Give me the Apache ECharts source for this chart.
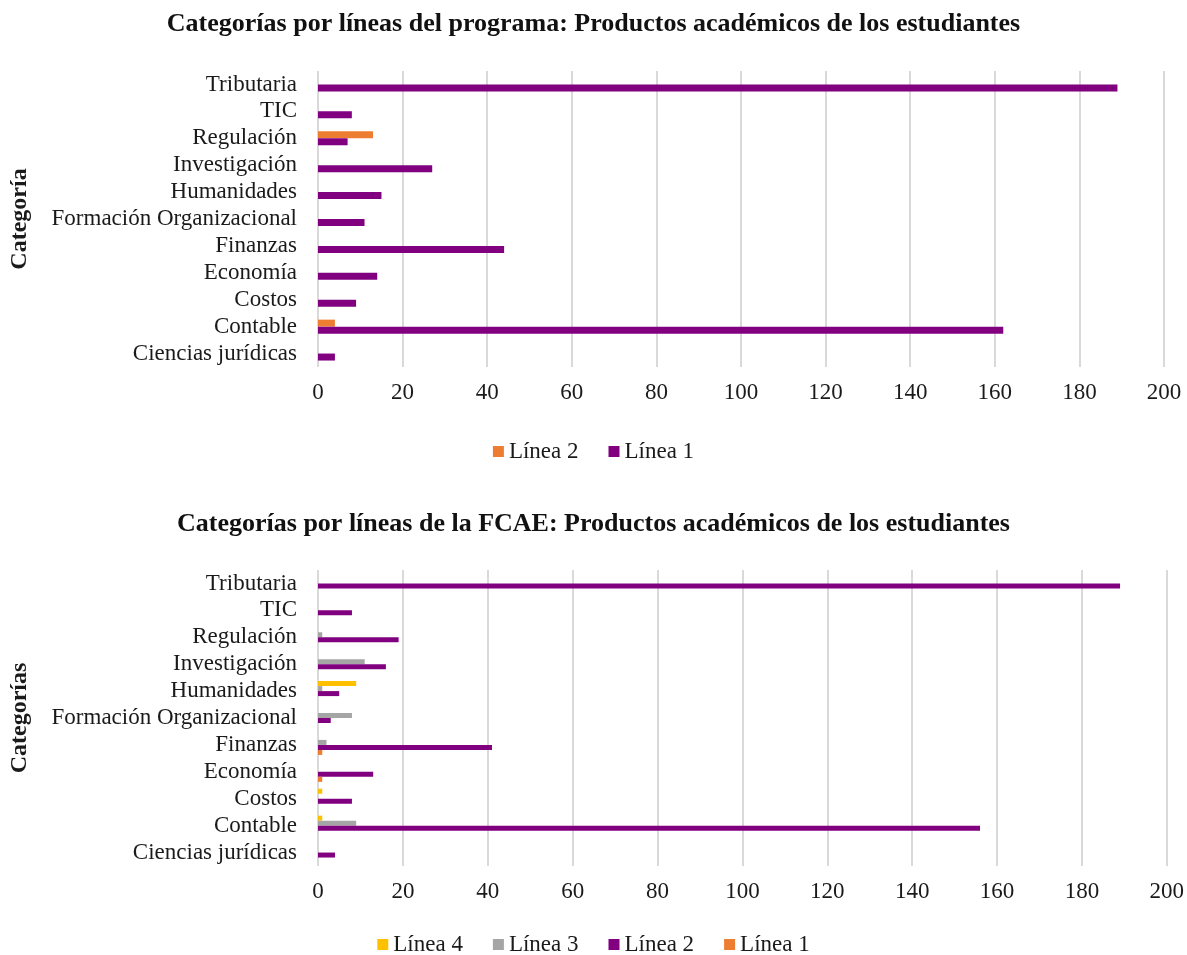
<!DOCTYPE html>
<html>
<head>
<meta charset="utf-8">
<script src="https://cdn.jsdelivr.net/npm/echarts@6/dist/echarts.min.js"></script>
<style>
  html, body { margin: 0; padding: 0; background: #fff; }
  #chart { width: 1187px; height: 955px; }
</style>
</head>
<body>
<div id="chart"></div>
<script>
// categories, bottom to top
const categories = [
  "Ciencias jurídicas", "Contable", "Costos", "Economía", "Finanzas",
  "Formación Organizacional", "Humanidades", "Investigación", "Regulación", "TIC", "Tributaria"
];

// chart 1: lineas del programa
const prog_linea2 = [0, 4, 0, 0, 0, 0, 0, 0, 13, 0, 0];
const prog_linea1 = [4, 162, 9, 14, 44, 11, 15, 27, 7, 8, 189];

// chart 2: lineas de la FCAE
const fcae_linea4 = [0, 1, 1, 0, 0, 0, 9, 0, 0, 0, 0];
const fcae_linea3 = [0, 9, 0, 0, 2, 8, 1, 11, 1, 0, 0];
const fcae_linea2 = [4, 156, 8, 13, 41, 3, 5, 16, 19, 8, 189];
const fcae_linea1 = [0, 0, 0, 1, 1, 0, 0, 0, 0, 0, 0];

const xTicks = [0, 20, 40, 60, 80, 100, 120, 140, 160, 180, 200];

const FONT = "Liberation Serif";
const PURPLE = "#800080", ORANGE = "#ED7D31", GRAY = "#A5A5A5", YELLOW = "#FFC000";

function valueAxis(gridIndex) {
  return {
    type: "value",
    gridIndex: gridIndex,
    min: xTicks[0],
    max: xTicks[xTicks.length - 1],
    interval: 20,
    axisLine: { show: false },
    axisTick: { show: false },
    axisLabel: { color: "#1a1a1a", fontFamily: FONT, fontSize: 23, margin: 14 },
    splitLine: { show: true, lineStyle: { color: "#d9d9d9", width: 2 } }
  };
}

function catAxis(gridIndex, name) {
  return {
    type: "category",
    gridIndex: gridIndex,
    data: categories,
    axisLine: { show: false },
    axisTick: { show: false },
    axisLabel: { interval: 0, color: "#1a1a1a", fontFamily: FONT, fontSize: 23, margin: 21 },
    name: name,
    nameLocation: "middle",
    nameRotate: 90,
    nameGap: 286,
    nameTextStyle: { color: "#1a1a1a", fontFamily: FONT, fontSize: 24, fontWeight: "bold" }
  };
}

function bar(name, data, color, idx, width) {
  return {
    name: name,
    type: "bar",
    xAxisIndex: idx,
    yAxisIndex: idx,
    data: data,
    barWidth: width,
    barGap: "0%",
    itemStyle: { color: color },
    silent: true
  };
}

const chart = echarts.init(document.getElementById("chart"));
chart.setOption({
  animation: false,
  backgroundColor: "#fff",
  title: [
    {
      text: "Categorías por líneas del programa: Productos académicos de los estudiantes",
      left: "center", top: 6,
      textStyle: { fontFamily: FONT, fontSize: 26, fontWeight: "bold", color: "#111" }
    },
    {
      text: "Categorías por líneas de la FCAE: Productos académicos de los estudiantes",
      left: "center", top: 506,
      textStyle: { fontFamily: FONT, fontSize: 26, fontWeight: "bold", color: "#111" }
    }
  ],
  legend: [
    {
      data: ["Línea 2", "Línea 1"],
      top: 435, left: "center",
      icon: "rect", itemWidth: 11, itemHeight: 11, itemGap: 30,
      textStyle: { fontFamily: FONT, fontSize: 23, color: "#1a1a1a" }
    },
    {
      data: ["Línea 4", "Línea 3", "Línea 2 ", "Línea 1 "],
      top: 928, left: "center",
      icon: "rect", itemWidth: 11, itemHeight: 11, itemGap: 30,
      textStyle: { fontFamily: FONT, fontSize: 23, color: "#1a1a1a" },
      formatter: function (n) { return n.trim(); }
    }
  ],
  grid: [
    { left: 316, right: 23, top: 71, height: 296 },
    { left: 312, right: 20, top: 570, height: 296 }
  ],
  xAxis: [valueAxis(0), valueAxis(1)],
  yAxis: [catAxis(0, "Categoría"), catAxis(1, "Categorías")],
  series: [
    bar("Línea 2", prog_linea2, ORANGE, 0, 7),
    bar("Línea 1", prog_linea1, PURPLE, 0, 7),
    bar("Línea 4", fcae_linea4, YELLOW, 1, 5),
    bar("Línea 3", fcae_linea3, GRAY, 1, 5),
    bar("Línea 2 ", fcae_linea2, PURPLE, 1, 5),
    bar("Línea 1 ", fcae_linea1, ORANGE, 1, 5)
  ]
});
</script>
</body>
</html>
